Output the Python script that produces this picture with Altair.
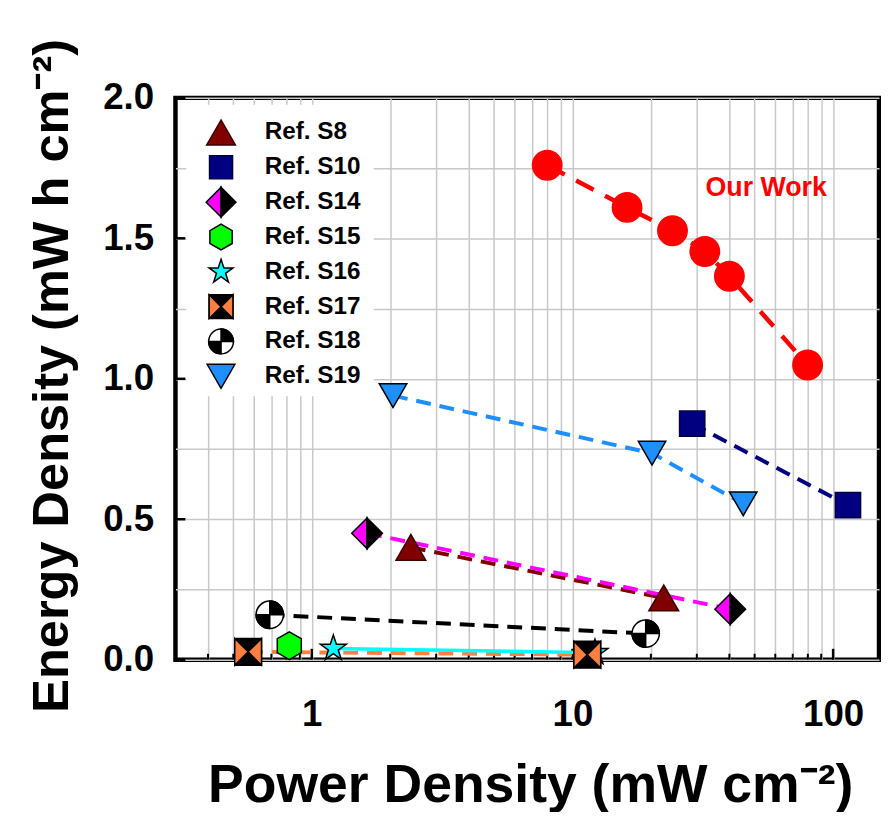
import altair as alt
import pandas as pd

# ---------------- data ----------------
series_names = ["Ref. S8", "Ref. S10", "Ref. S14", "Ref. S15", "Ref. S16",
                "Ref. S17", "Ref. S18", "Ref. S19", "Our Work"]
legend_names = series_names[:8]

s8_x = [2.4, 22.4]
s8_y = [0.40, 0.22]
s10_x = [28.8, 114.0]
s10_y = [0.84, 0.55]
s14_x = [1.63, 40.3]
s14_y = [0.45, 0.18]
s15_x = [0.82]
s15_y = [0.05]
s16_x = [1.21, 12.2]
s16_y = [0.04, 0.025]
s17_x = [0.57, 11.4]
s17_y = [0.028, 0.018]
s18_x = [0.69, 19.1]
s18_y = [0.16, 0.093]
s19_x = [2.05, 20.2, 45.2]
s19_y = [0.94, 0.735, 0.555]
our_x = [8.0, 16.2, 24.2, 32.2, 40.0, 79.8]
our_y = [1.76, 1.61, 1.527, 1.453, 1.365, 1.049]

annotation_text = ["Our Work"]
annotation_x = [32.4]
annotation_y = [1.68]

x_grid_values = [0.4, 0.5, 0.6, 0.7, 0.8, 0.9,
                 1, 2, 3, 4, 5, 6, 7, 8, 9,
                 10, 20, 30, 40, 50, 60, 70, 80, 90, 100]
x_label_values = [1, 10, 100]
y_grid_values = [0, 0.25, 0.5, 0.75, 1.0, 1.25, 1.5, 1.75, 2.0]
y_label_values = [0, 0.5, 1.0, 1.5, 2.0]

x_title = "Power Density (mW cm\u207b\u00b2)"
y_title = "Energy Density (mW h cm\u207b\u00b2)"

# ---------------- styles ----------------
FONT = "Liberation Sans"
LEFT_HALF_DIAMOND = "M0,-1L-1,0L0,1Z"
RIGHT_HALF_DIAMOND = "M0,-1L1,0L0,1Z"
HEXAGON = "M0,-1L0.866,-0.5L0.866,0.5L0,1L-0.866,0.5L-0.866,-0.5Z"
STAR = ("M0,-1L0.225,-0.309L0.951,-0.309L0.363,0.118L0.588,0.809L0,0.382"
        "L-0.588,0.809L-0.363,0.118L-0.951,-0.309L-0.225,-0.309Z")
BOW_LEFT = "M-1,-1L0,0L-1,1Z"
BOW_RIGHT = "M1,-1L0,0L1,1Z"
QUAD_TR = "M0,0L0,-1A1,1,0,0,1,1,0Z"
QUAD_BL = "M0,0L0,1A1,1,0,0,1,-1,0Z"

ORANGE = "#ff8040"
BLUE = "#1e8fff"

marker_parts = {
    "Ref. S8": [("triangle-up", "#800000", "#3a0000")],
    "Ref. S10": [("square", "#000080", "#000040")],
    "Ref. S14": [(LEFT_HALF_DIAMOND, "#ff00ff", "#000000"),
                 (RIGHT_HALF_DIAMOND, "#000000", "#000000")],
    "Ref. S15": [(HEXAGON, "#00ff00", "#000000")],
    "Ref. S16": [(STAR, "#00ffff", "#000000")],
    "Ref. S17": [("square", "#000000", "#000000"),
                 (BOW_LEFT, ORANGE, "#000000"),
                 (BOW_RIGHT, ORANGE, "#000000")],
    "Ref. S18": [("circle", "#ffffff", "#000000"),
                 (QUAD_TR, "#000000", "#000000"),
                 (QUAD_BL, "#000000", "#000000")],
    "Ref. S19": [("triangle-down", BLUE, "#000000")],
    "Our Work": [("circle", "#ff0000", "#ff0000")],
}
plot_size = {"Ref. S8": 900, "Ref. S10": 650, "Ref. S14": 960, "Ref. S15": 784,
             "Ref. S16": 750, "Ref. S17": 729, "Ref. S18": 760, "Ref. S19": 770,
             "Our Work": 880}
legend_size = {"Ref. S8": 840, "Ref. S10": 540, "Ref. S14": 900, "Ref. S15": 676,
               "Ref. S16": 640, "Ref. S17": 576, "Ref. S18": 625, "Ref. S19": 784}
line_color = {"Ref. S8": "#800000", "Ref. S10": "#000080", "Ref. S14": "#ff00ff",
              "Ref. S16": "#00ffff", "Ref. S17": ORANGE, "Ref. S18": "#000000",
              "Ref. S19": BLUE, "Our Work": "#ff0000"}

series_data = {
    "Ref. S8": (s8_x, s8_y), "Ref. S10": (s10_x, s10_y), "Ref. S14": (s14_x, s14_y),
    "Ref. S15": (s15_x, s15_y), "Ref. S16": (s16_x, s16_y), "Ref. S17": (s17_x, s17_y),
    "Ref. S18": (s18_x, s18_y), "Ref. S19": (s19_x, s19_y), "Our Work": (our_x, our_y),
}

# ---------------- tables ----------------
pt_rows, ln_rows = [], []
for si, name in enumerate(series_names):
    xs, ys = series_data[name]
    for xv, yv in zip(xs, ys):
        if name in line_color:
            ln_rows.append(dict(series=name, x=xv, y=yv, color=line_color[name]))
        for k, (shp, fil, stk) in enumerate(marker_parts[name]):
            pt_rows.append(dict(series=name, x=xv, y=yv, shape=shp, fill=fil,
                                stroke=stk, size=plot_size[name], z=si * 10 + k))
points = pd.DataFrame(pt_rows)
lines = pd.DataFrame(ln_rows)

lg_rows = []
for si, name in enumerate(legend_names):
    for k, (shp, fil, stk) in enumerate(marker_parts[name]):
        lg_rows.append(dict(series=name, shape=shp, fill=fil, stroke=stk,
                            size=legend_size[name], z=si * 10 + k))
legend_pts = pd.DataFrame(lg_rows)
legend_lbl = pd.DataFrame({"series": legend_names})

minor_x = pd.DataFrame({"x": [v for v in x_grid_values if v not in x_label_values]})
major_x = pd.DataFrame({"x": x_label_values})
major_y = pd.DataFrame({"y": y_label_values})
annot = pd.DataFrame({"x": annotation_x, "y": annotation_y, "text": annotation_text})

# ---------------- scales / axes ----------------
xscale = alt.Scale(type="log", domain=[0.3, 150], nice=False)
yscale = alt.Scale(domain=[0, 2], nice=False, zero=False)

xaxis = alt.Axis(
    values=x_grid_values, grid=True, gridColor="#c8c8c8", gridWidth=1.5,
    ticks=False, domain=False,
    labelExpr=f"indexof({x_label_values}, datum.value) >= 0 ? format(datum.value, 'd') : ''",
    labelFont=FONT, labelFontSize=37, labelFontWeight="bold", labelColor="black",
    labelPadding=66, labelBaseline="alphabetic", labelOverlap=False,
    labelFlush=False, labelBound=False,
    title=x_title, titleFont=FONT, titleFontSize=54, titleFontWeight="bold",
    titleColor="black", titleX=358, titleY=143, titleBaseline="alphabetic",
    titleAlign="center",
)
yaxis = alt.Axis(
    values=y_grid_values, grid=True, gridColor="#c8c8c8", gridWidth=1.5,
    ticks=False, domain=False,
    labelExpr="(datum.value * 2) % 1 == 0 ? format(datum.value, '.1f') : ''",
    labelFont=FONT, labelFontSize=37, labelFontWeight="bold", labelColor="black",
    labelPadding=22, labelBaseline="middle", labelOverlap=False,
    labelFlush=False, labelBound=False,
    title=y_title, titleFont=FONT, titleFontSize=51, titleFontWeight="bold",
    titleColor="black", titleAngle=270, titleX=-109, titleY=280,
    titleBaseline="alphabetic", titleAlign="center",
)

X = alt.X("x:Q", scale=xscale, axis=xaxis)
Y = alt.Y("y:Q", scale=yscale, axis=yaxis)

W, H = 710, 567

minor_ticks = alt.Chart(minor_x).mark_rule(color="black", strokeWidth=2).encode(
    x=X, y=alt.value(H), y2=alt.value(H - 6))
major_ticks = alt.Chart(major_x).mark_rule(color="black", strokeWidth=2.5).encode(
    x=X, y=alt.value(H), y2=alt.value(H - 11))
y_ticks = alt.Chart(major_y).mark_rule(color="black", strokeWidth=2.5).encode(
    y=Y, x=alt.value(0), x2=alt.value(10))

ref_lines = alt.Chart(lines).transform_filter(
    "datum.series != 'Ref. S16' && datum.series != 'Our Work'"
).mark_line(strokeWidth=4, strokeDash=[15, 9]).encode(
    x=X, y=Y, color=alt.Color("color:N", scale=None), detail="series:N")
solid_line = alt.Chart(lines).transform_filter(
    "datum.series == 'Ref. S16'"
).mark_line(strokeWidth=3.5).encode(
    x=X, y=Y, color=alt.Color("color:N", scale=None), detail="series:N")
our_line = alt.Chart(lines).transform_filter(
    "datum.series == 'Our Work'"
).mark_line(strokeWidth=4.5, strokeDash=[20, 13]).encode(
    x=X, y=Y, color=alt.Color("color:N", scale=None), detail="series:N")

markers = alt.Chart(points).mark_point(filled=True, opacity=1, strokeWidth=1.5).encode(
    x=X, y=Y,
    shape=alt.Shape("shape:N", scale=None),
    fill=alt.Fill("fill:N", scale=None),
    stroke=alt.Stroke("stroke:N", scale=None),
    size=alt.Size("size:Q", scale=None),
    order=alt.Order("z:Q"),
)

our_text = alt.Chart(annot).mark_text(
    align="left", baseline="middle", font=FONT, fontSize=27, fontWeight="bold",
    color="#ff0000").encode(x=X, y=Y, text="text:N")

main = alt.layer(minor_ticks, major_ticks, y_ticks, ref_lines, solid_line, our_line,
                 markers, our_text)

# ---------------- legend (inside the plot, top-left) ----------------
LY = alt.Y("series:N", sort=legend_names, axis=None,
           scale=alt.Scale(type="point", range=[35, 281], padding=0))
legend_bg = alt.Chart(pd.DataFrame({"a": [0]})).mark_rect(fill="white").encode(
    x=alt.value(11), x2=alt.value(200), y=alt.value(7), y2=alt.value(301))
legend_syms = alt.Chart(legend_pts).mark_point(filled=True, opacity=1, strokeWidth=1.5).encode(
    y=LY, x=alt.value(46),
    shape=alt.Shape("shape:N", scale=None),
    fill=alt.Fill("fill:N", scale=None),
    stroke=alt.Stroke("stroke:N", scale=None),
    size=alt.Size("size:Q", scale=None),
    order=alt.Order("z:Q"),
)
legend_txt = alt.Chart(legend_lbl).mark_text(
    align="left", baseline="middle", font=FONT, fontSize=24.5, fontWeight="bold",
    color="black").encode(y=LY, x=alt.value(90), text="series:N")
legend = alt.layer(legend_bg, legend_syms, legend_txt)

chart = alt.layer(main, legend).resolve_scale(y="independent").properties(
    width=W, height=H,
    padding={"left": 169, "top": 87, "right": 2, "bottom": 150},
    autosize=alt.AutoSizeParams(type="none"),
).configure(font=FONT).configure_view(stroke="black", strokeWidth=4.5)

chart.save("out.html", embed_options={"renderer": "svg", "actions": False})
